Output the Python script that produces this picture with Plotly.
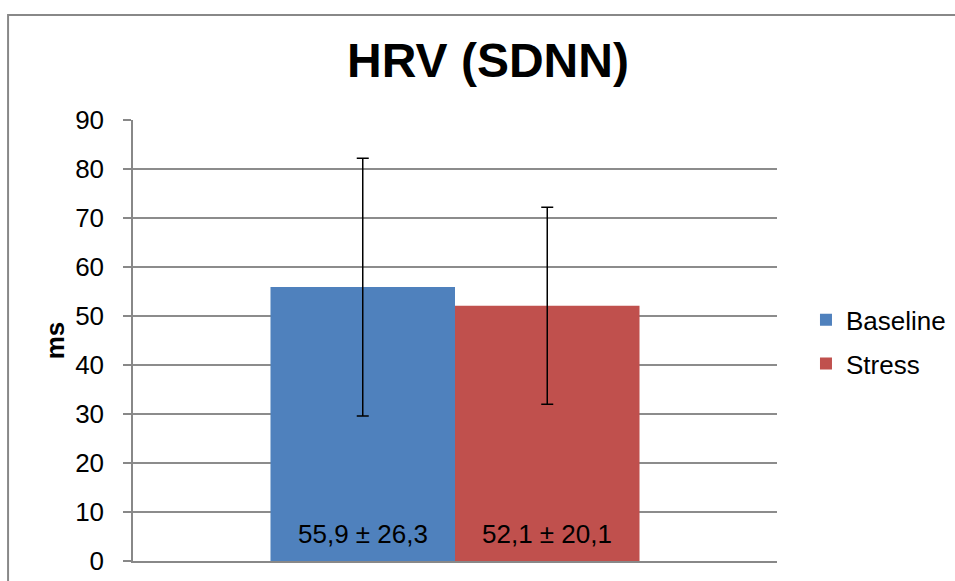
import plotly.graph_objects as go

series = ["Baseline", "Stress"]
means = [55.9, 52.1]
sds = [26.3, 20.1]
colors = ["#4F81BD", "#C0504D"]
category = ["SDNN"]
y_ticks = [0, 10, 20, 30, 40, 50, 60, 70, 80, 90]

FONT = "Liberation Sans, Arial, sans-serif"

fig = go.Figure()
for name, m, s, c in zip(series, means, sds, colors):
    fig.add_trace(go.Bar(
        name=name, x=category, y=[m],
        marker=dict(color=c, line=dict(width=0)),
        error_y=dict(type="data", array=[s], visible=True, color="black", thickness=1.5, width=6),
        legendgroup=name,
    ))

# value labels at the bottom of each bar
offsets = [-92, 92]
for m, s, dx in zip(means, sds, offsets):
    label = f"{m:.1f} ± {s:.1f}".replace(".", ",")
    fig.add_annotation(x=category[0], y=0, xref="x", yref="y", text=label,
                       showarrow=False, xshift=dx, yanchor="bottom", yshift=10,
                       font=dict(family=FONT, size=26, color="black"))

# chart border
fig.add_shape(type="rect", xref="paper", yref="paper", x0=-0.194, x1=1.4, y0=-0.2, y1=1.238,
              line=dict(color="#888888", width=2), fillcolor="rgba(0,0,0,0)", layer="below")

fig.update_layout(
    width=955, height=581,
    margin=dict(l=133, r=178, t=120, b=20, autoexpand=False),
    paper_bgcolor="white", plot_bgcolor="white",
    font=dict(family=FONT, size=26, color="black"),
    title=dict(text="<b>HRV (SDNN)</b>", x=0.511, xanchor="center", y=0.897, yanchor="middle",
               font=dict(family=FONT, size=48, color="black")),
    barmode="group", bargap=0.427, bargroupgap=0,
    showlegend=True,
    legend=dict(x=1.045, xanchor="left", y=0.497, yanchor="middle",
                font=dict(family=FONT, size=26, color="black"),
                traceorder="grouped", tracegroupgap=7, itemwidth=30),
    xaxis=dict(showticklabels=False, showgrid=False, zeroline=False, automargin=False,
               showline=True, linecolor="#888888", linewidth=1.5, ticks=""),
    yaxis=dict(range=[0, 90], tickvals=y_ticks, ticktext=[str(v) for v in y_ticks],
               showgrid=True, gridcolor="#8c8c8c", gridwidth=1.5,
               showline=True, linecolor="#888888", linewidth=1.5,
               ticks="outside", ticklen=8, tickcolor="#888888", tickwidth=1.5,
               ticklabelstandoff=14, zeroline=False, automargin=False,
               title=dict(text="<b>ms</b>", font=dict(family=FONT, size=26), standoff=3)),
)

fig.write_html("out.html", config={"displayModeBar": False},
               post_script="document.body.style.margin='0';document.body.style.overflow='hidden';")
